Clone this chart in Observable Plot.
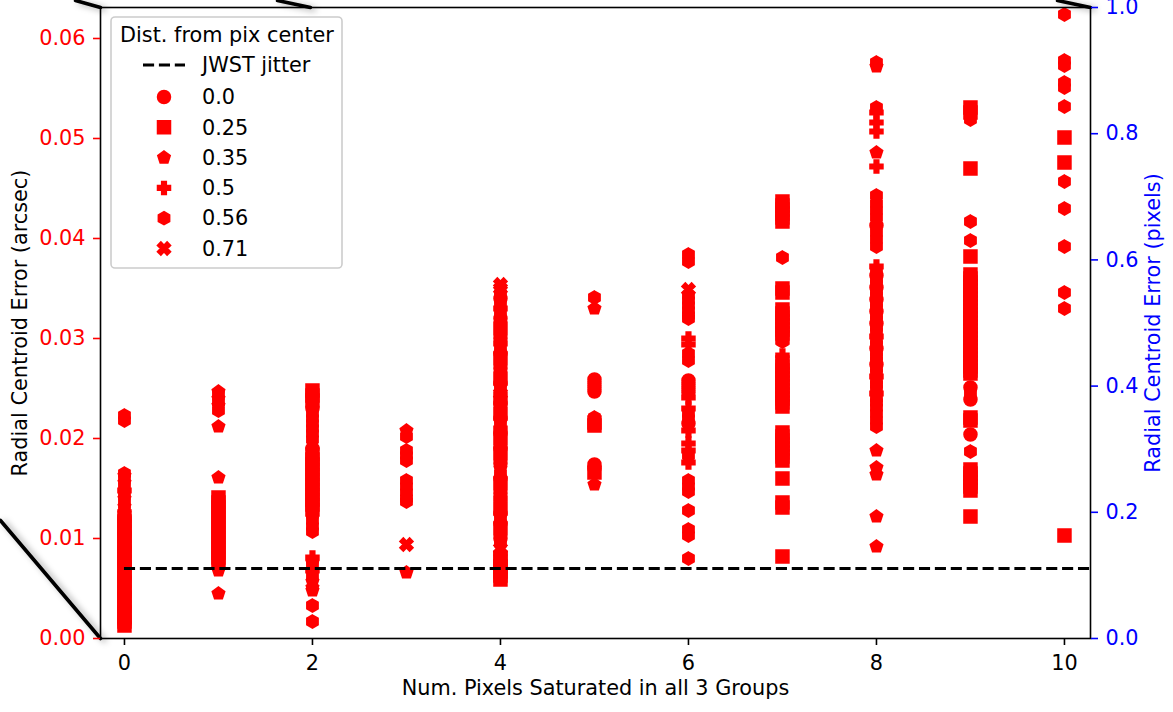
<!DOCTYPE html>
<html><head><meta charset="utf-8">
<script src="https://cdn.jsdelivr.net/npm/d3@7"></script>
<script src="https://cdn.jsdelivr.net/npm/@observablehq/plot@0.6"></script>
<style>
body{margin:0;background:#fff;}
#chart{position:relative;width:1173px;height:712px;}
</style>
</head><body><div id="chart"></div>
<script>
// ---------- data ----------
const xTicks = [0, 2, 4, 6, 8, 10];
const leftTicks = [0, 0.01, 0.02, 0.03, 0.04, 0.05, 0.06];
const rightTicks = [0, 0.2, 0.4, 0.6, 0.8, 1.0];
const xDomain = [-0.255, 10.277];
const yDomain = [0, 0.0631];
const pixelScale = 0.0631;        // arcsec per pixel (right axis)
const jwstJitter = 0.0070;        // arcsec
const jitterX = [0, 10.277];
const legendTitle = "Dist. from pix center";
const distLabels = ["0.0", "0.25", "0.35", "0.5", "0.56", "0.71"];

// [num saturated pixels, [radial centroid errors (arcsec)]]
const dist_0_0 = [
  [0, [0.0120, 0.0105, 0.0090, 0.0075, 0.0060, 0.0045, 0.0030, 0.0015]],
  [2, [0.0230, 0.0190]],
  [4, [0.0340, 0.0320, 0.0300, 0.0285, 0.0270, 0.0255, 0.0235, 0.0220, 0.0205, 0.0190, 0.0175, 0.0160, 0.0145, 0.0125, 0.0115, 0.0100, 0.0085]],
  [5, [0.0259, 0.0255, 0.0251, 0.0247, 0.0174, 0.0170]],
  [6, [0.0258, 0.0254, 0.0250, 0.0246, 0.0215]],
  [8, [0.0413, 0.0363, 0.0351, 0.0339, 0.0327, 0.0315, 0.0290, 0.0274]],
  [9, [0.0251, 0.0239, 0.0204]]
];
const dist_0_25 = [
  [0, [0.0122, 0.0117, 0.0112, 0.0107, 0.0102, 0.0097, 0.0092, 0.0087, 0.0082, 0.0077, 0.0072, 0.0067, 0.0062, 0.0057, 0.0052, 0.0047, 0.0042, 0.0037, 0.0032, 0.0027, 0.0022, 0.0017, 0.0013]],
  [1, [0.0141, 0.0136, 0.0131, 0.0126, 0.0121, 0.0116, 0.0111, 0.0106, 0.0101, 0.0096, 0.0091, 0.0086, 0.0081, 0.0076]],
  [2, [0.0248, 0.0243, 0.0238, 0.0184, 0.0179, 0.0174, 0.0169, 0.0164, 0.0159, 0.0154, 0.0149, 0.0144, 0.0139, 0.0134, 0.0129]],
  [4, [0.0310, 0.0280, 0.0260, 0.0240, 0.0225, 0.0200, 0.0185, 0.0155, 0.0130, 0.0110, 0.0081, 0.0077, 0.0072, 0.0067, 0.0063, 0.0059]],
  [5, [0.0216, 0.0213, 0.0166]],
  [7, [0.0437, 0.0433, 0.0429, 0.0425, 0.0421, 0.0417, 0.0350, 0.0346, 0.0329, 0.0325, 0.0321, 0.0317, 0.0313, 0.0309, 0.0305, 0.0301, 0.0276, 0.0272, 0.0268, 0.0264, 0.0260, 0.0256, 0.0252, 0.0248, 0.0244, 0.0240, 0.0236, 0.0232, 0.0206, 0.0202, 0.0198, 0.0194, 0.0190, 0.0186, 0.0182, 0.0178, 0.0160, 0.0136, 0.0131, 0.0082]],
  [9, [0.0531, 0.0526, 0.0470, 0.0382, 0.0364, 0.0360, 0.0356, 0.0352, 0.0348, 0.0344, 0.0340, 0.0336, 0.0332, 0.0328, 0.0324, 0.0320, 0.0316, 0.0312, 0.0308, 0.0304, 0.0300, 0.0296, 0.0292, 0.0288, 0.0284, 0.0280, 0.0276, 0.0272, 0.0268, 0.0265, 0.0221, 0.0218, 0.0169, 0.0165, 0.0161, 0.0156, 0.0152, 0.0148, 0.0122]],
  [10, [0.0501, 0.0476, 0.0103]]
];
const dist_0_35 = [
  [0, [0.0163, 0.0156, 0.0140, 0.0132, 0.0125]],
  [1, [0.0247, 0.0240, 0.0233, 0.0212, 0.0161, 0.0068, 0.0045]],
  [2, [0.0076, 0.0057, 0.0051, 0.0048]],
  [3, [0.0208, 0.0066]],
  [4, [0.0170]],
  [5, [0.0330, 0.0154]],
  [8, [0.0572, 0.0486, 0.0188, 0.0171, 0.0164, 0.0122, 0.0092]]
];
const dist_0_5 = [
  [0, [0.0148]],
  [2, [0.0081, 0.0068]],
  [4, [0.0330, 0.0295, 0.0210, 0.0140]],
  [6, [0.0300, 0.0294, 0.0241, 0.0230, 0.0208, 0.0195, 0.0188, 0.0176]],
  [7, [0.0283]],
  [8, [0.0526, 0.0516, 0.0507, 0.0472, 0.0372, 0.0302, 0.0262, 0.0245]]
];
const dist_0_56 = [
  [0, [0.0223, 0.0218, 0.0165, 0.0160, 0.0152, 0.0144, 0.0136, 0.0128]],
  [1, [0.0244, 0.0236, 0.0228, 0.0072]],
  [2, [0.0225, 0.0220, 0.0215, 0.0210, 0.0205, 0.0199, 0.0124, 0.0118, 0.0112, 0.0107, 0.0073, 0.0062, 0.0033, 0.0017]],
  [3, [0.0202, 0.0188, 0.0183, 0.0178, 0.0158, 0.0152, 0.0146, 0.0140, 0.0137]],
  [4, [0.0345, 0.0335, 0.0325, 0.0315, 0.0305, 0.0290, 0.0275, 0.0265, 0.0250, 0.0230, 0.0215, 0.0195, 0.0180, 0.0165, 0.0150, 0.0135, 0.0120, 0.0105, 0.0095]],
  [5, [0.0341, 0.0221]],
  [6, [0.0384, 0.0377, 0.0343, 0.0338, 0.0333, 0.0328, 0.0323, 0.0320, 0.0285, 0.0278, 0.0225, 0.0220, 0.0183, 0.0158, 0.0152, 0.0147, 0.0128, 0.0109, 0.0103, 0.0080]],
  [7, [0.0381, 0.0297]],
  [8, [0.0576, 0.0531, 0.0443, 0.0435, 0.0428, 0.0421, 0.0406, 0.0399, 0.0392, 0.0367, 0.0359, 0.0355, 0.0347, 0.0343, 0.0335, 0.0331, 0.0323, 0.0319, 0.0311, 0.0307, 0.0298, 0.0294, 0.0286, 0.0282, 0.0278, 0.0270, 0.0266, 0.0258, 0.0254, 0.0250, 0.0240, 0.0236, 0.0231, 0.0225, 0.0218, 0.0212]],
  [9, [0.0519, 0.0417, 0.0398, 0.0245, 0.0187]],
  [10, [0.0624, 0.0578, 0.0573, 0.0556, 0.0551, 0.0532, 0.0457, 0.0430, 0.0392, 0.0346, 0.0330]]
];
const dist_0_71 = [
  [3, [0.0094]],
  [4, [0.0354, 0.0350, 0.0245, 0.0090]],
  [6, [0.0349]]
];

// inset connector lines (data coordinates, extend past the frame)
const connectors = [
  [[-0.521, 0.0638], [-0.255, 0.0631]],
  [[1.628, 0.0638], [1.979, 0.0631]],
  [[9.926, 0.0638], [10.277, 0.0631]],
  [[-1.319, 0.0118], [-0.255, 0.0]]
];

// ---------- symbols (matplotlib-like) ----------
function sym(fn) { return {draw(ctx, size) { fn(ctx, Math.sqrt(size / Math.PI)); }}; }
function poly(ctx, pts) { pts.forEach(([px, py], i) => i ? ctx.lineTo(px, py) : ctx.moveTo(px, py)); ctx.closePath(); }
function regular(n, r) { return d3.range(n).map(k => { const a = -Math.PI / 2 + 2 * Math.PI * k / n; return [r * Math.cos(a), r * Math.sin(a)]; }); }
const symCircle = sym((c, r) => { c.moveTo(r, 0); c.arc(0, 0, r, 0, 2 * Math.PI); });
const symSquare = sym((c, r) => poly(c, [[-r, -r], [r, -r], [r, r], [-r, r]]));
const symPentagon = sym((c, r) => poly(c, regular(5, r)));
const symHexagon = sym((c, r) => poly(c, regular(6, r)));
const symPlus = sym((c, r) => poly(c, [[-1,-3],[-1,-1],[-3,-1],[-3,1],[-1,1],[-1,3],[1,3],[1,1],[3,1],[3,-1],[1,-1],[1,-3]].map(([a, b]) => [a * r / 3, b * r / 3])));
const symX = sym((c, r) => poly(c, [[-1,-2],[0,-1],[1,-2],[2,-1],[1,0],[2,1],[1,2],[0,1],[-1,2],[-2,1],[-1,0],[-2,-1]].map(([a, b]) => [a * r / 2, b * r / 2])));

const series = [
  {label: distLabels[0], data: dist_0_0, symbol: symCircle},
  {label: distLabels[1], data: dist_0_25, symbol: symSquare},
  {label: distLabels[2], data: dist_0_35, symbol: symPentagon},
  {label: distLabels[3], data: dist_0_5, symbol: symPlus},
  {label: distLabels[4], data: dist_0_56, symbol: symHexagon},
  {label: distLabels[5], data: dist_0_71, symbol: symX}
];
const flat = groups => groups.flatMap(([x, ys]) => ys.map(y => ({x, y})));

const R = 6.25, FS = 20.8, RED = "#ff0000", BLUE = "#0000ff";
const font = "DejaVu Sans, sans-serif";

const plot = Plot.plot({
  width: 1173, height: 712,
  marginLeft: 100, marginRight: 83, marginTop: 7, marginBottom: 74,
  style: {fontFamily: font, fontSize: FS + "px", background: "white", overflow: "visible"},
  x: {domain: xDomain},
  y: {domain: yDomain},
  marks: [
    ...connectors.map(seg => Plot.line(seg, {x: d => d[0], y: d => d[1], stroke: "black", strokeWidth: 3.6})),
    ...series.map(s => Plot.dot(flat(s.data), {x: "x", y: "y", symbol: s.symbol, r: R, fill: RED, stroke: RED, strokeWidth: 2})),
    Plot.ruleY([jwstJitter], {x1: jitterX[0], x2: jitterX[1], stroke: "black", strokeWidth: 3, strokeDasharray: "11.1,4.8"}),
    Plot.frame({stroke: "black", strokeWidth: 1.6}),
    Plot.axisX(xTicks, {anchor: "bottom", tickSize: 7, tickPadding: 10, strokeWidth: 1.6, fontSize: FS, label: null, tickFormat: d3.format("d")}),
    Plot.axisY(leftTicks, {anchor: "left", tickSize: 7, tickPadding: 8, strokeWidth: 1.6, fontSize: FS, color: RED, label: null, tickFormat: d3.format(".2f")}),
    Plot.axisY(rightTicks.map(t => t * pixelScale), {anchor: "right", tickSize: 7, tickPadding: 8, strokeWidth: 1.6, fontSize: FS, color: BLUE, label: null, tickFormat: d => (d / pixelScale).toFixed(1)}),
    Plot.text(["Num. Pixels Saturated in all 3 Groups"], {frameAnchor: "bottom", dy: 56, text: d => d, textAnchor: "middle", fontSize: FS, fill: "black"}),
    Plot.text(["Radial Centroid Error (arcsec)"], {frameAnchor: "left", dx: -80, rotate: -90, textAnchor: "middle", text: d => d, fontSize: FS, fill: "black"}),
    Plot.text(["Radial Centroid Error (pixels)"], {frameAnchor: "right", dx: 63, rotate: -90, textAnchor: "middle", text: d => d, fontSize: FS, fill: BLUE})
  ]
});
document.getElementById("chart").appendChild(plot);

const svg = d3.select(plot);
// soft shadow on the inset connector lines
svg.selectAll('g[aria-label="line"]').style("filter", "drop-shadow(4px 2px 3px rgba(0,0,0,0.35))");

// ---------- legend ----------
const lg = svg.append("g").attr("font-family", font).attr("font-size", FS).attr("text-anchor", "start");
lg.append("rect").attr("x", 111).attr("y", 17).attr("width", 231).attr("height", 251)
  .attr("rx", 4).attr("fill", "white").attr("fill-opacity", 0.85).attr("stroke", "#cccccc").attr("stroke-width", 1.6);
lg.append("text").attr("x", 227).attr("y", 35).attr("dy", "0.35em").attr("text-anchor", "middle").attr("fill", "black").text(legendTitle);
lg.append("line").attr("x1", 143).attr("x2", 185).attr("y1", 65).attr("y2", 65)
  .attr("stroke", "black").attr("stroke-width", 3).attr("stroke-dasharray", "11.1,4.8");
lg.append("text").attr("x", 202).attr("y", 65).attr("dy", "0.35em").attr("text-anchor", "start").attr("fill", "black").text("JWST jitter");
series.forEach((s, i) => {
  const y = 97 + i * 30.3;
  lg.append("path").attr("transform", `translate(164,${y})`)
    .attr("d", d3.symbol(s.symbol, Math.PI * R * R)())
    .attr("fill", RED).attr("stroke", RED).attr("stroke-width", 2);
  lg.append("text").attr("x", 202).attr("y", y).attr("dy", "0.35em").attr("text-anchor", "start").attr("fill", "black").text(s.label);
});
</script>
</body></html>
